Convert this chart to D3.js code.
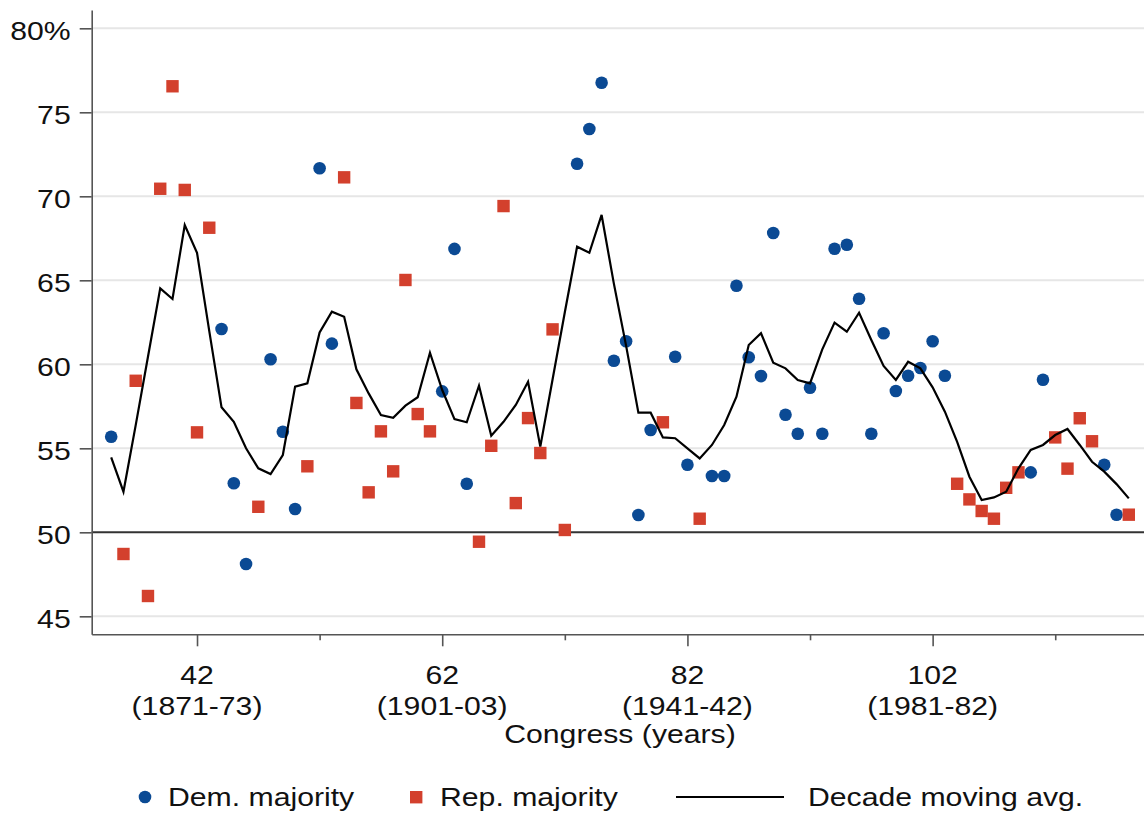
<!DOCTYPE html>
<html><head><meta charset="utf-8">
<script src="https://cdn.jsdelivr.net/npm/d3@7"></script>
<style>
html,body{margin:0;padding:0;background:#fff;}
svg{display:block;font-family:"Liberation Sans",Arial,Helvetica,sans-serif;}
</style></head><body>
<svg id="chart" width="1144" height="813"></svg>
<script>
// ---------------- DATA ----------------
const congresses = [35,36,37,38,39,40,41,42,43,44,45,46,47,48,49,50,51,52,53,54,55,56,57,58,59,60,
  61,62,63,64,65,66,67,68,69,70,71,72,73,74,75,76,77,78,79,80,81,82,83,84,85,86,87,88,89,90,
  91,92,93,94,95,96,97,98,99,100,101,102,103,104,105,106,107,108,109,110,111,112,113,114,115,116,117,118];
const majority = ["D","R","R","R","R","R","R","R","R","D","D","D","R","D","D","D","R","D","D","R","R","R","R","R","R","R",
  "R","D","D","D","R","R","R","R","R","R","R","R","D","D","D","D","D","D","D","R","D","D","R","D","D","D","D","D","D","D",
  "D","D","D","D","D","D","D","D","D","D","D","D","D","R","R","R","R","R","R","D","D","R","R","R","R","D","D","R"];
const voteShare = [55.69,48.71,59.02,46.21,70.45,76.55,70.38,55.95,68.13,62.10,52.92,48.11,51.52,60.30,55.99,51.39,53.93,71.67,61.23,71.13,57.70,52.38,56.01,53.63,65.02,57.04,
  56.01,58.39,66.87,52.89,49.44,55.15,69.42,51.74,56.80,54.72,62.08,50.14,71.94,74.01,76.76,60.21,61.37,51.03,56.09,56.55,60.45,54.02,50.81,53.35,53.35,64.68,60.42,59.30,67.82,57.00,
  55.87,58.61,55.87,66.88,67.12,63.90,55.87,61.85,58.41,59.32,59.78,61.37,59.32,52.89,51.96,51.27,50.81,52.65,53.57,53.57,59.08,55.65,53.79,56.79,55.42,54.02,51.05,51.05];
const movingAvg = [54.46,52.42,56.38,60.45,64.52,63.89,68.29,66.64,61.98,57.44,56.58,55.00,53.81,53.47,54.60,58.67,58.87,61.90,63.13,62.83,59.70,58.27,56.98,56.82,57.54,58.04,
  60.69,58.47,56.74,56.55,58.73,55.75,56.58,57.58,58.96,55.10,59.10,63.10,67.00,66.64,68.89,64.80,61.10,57.12,57.12,55.65,55.60,55.00,54.40,55.20,56.39,58.07,61.15,61.85,60.10,59.76,
  59.07,58.87,60.89,62.48,61.94,63.07,61.45,59.90,59.07,60.15,59.76,58.63,57.18,55.39,53.31,51.92,52.08,52.42,53.81,54.90,55.20,55.79,56.15,55.20,54.20,53.61,52.87,52.02];

const yTicks = [45,50,55,60,65,70,75,80];
const xMajorTicks = [42,62,82,102];
const xMajorYears = ["(1871-73)","(1901-03)","(1941-42)","(1981-82)"];
const xMinorTicks = [52,72,92,112];
const xTitle = "Congress (years)";
const legendLabels = ["Dem. majority","Rep. majority","Decade moving avg."];

// ---------------- STYLE ----------------
const BLUE = "#0b4a94", RED = "#d3402d", TXT = "#111", AX = "#555";
const FS = 25.6, SX = 1.18;

const svg = d3.select("#chart");
const x = d3.scaleLinear().domain([33.41,119.24]).range([91.7,1144]);
const y = d3.scaleLinear().domain([43.93,81.09]).range([634.3,10]);

// gridlines
svg.append("g").selectAll("line").data(yTicks.filter(v=>v!==50)).join("line")
  .attr("x1",x.range()[0]).attr("x2",1144)
  .attr("y1",d=>y(d)).attr("y2",d=>y(d))
  .attr("stroke","#e6e6e6").attr("stroke-width",2);
// reference line at 50
svg.append("line").attr("x1",x.range()[0]).attr("x2",1144)
  .attr("y1",y(50)).attr("y2",y(50)).attr("stroke","#333").attr("stroke-width",2);

// y axis
const yAxis = svg.append("g").attr("transform",`translate(${x.range()[0]},0)`)
  .call(d3.axisLeft(y).tickValues(yTicks).tickSize(12).tickSizeOuter(0)
    .tickFormat(d=>d===80?"80%":String(d)));
yAxis.select(".domain").attr("stroke",AX).attr("stroke-width",1.6);
yAxis.selectAll(".tick line").attr("stroke",AX).attr("stroke-width",1.6);
yAxis.selectAll(".tick text")
  .attr("x",null).attr("dy","0.45em")
  .attr("transform",`translate(-21,0) scale(${SX},1)`)
  .attr("font-size",FS).attr("fill",TXT).attr("font-family",null);

// x axis (major & minor ticks)
const xAxisMaj = svg.append("g").attr("transform",`translate(0,${y.range()[0]})`)
  .call(d3.axisBottom(x).tickValues(xMajorTicks).tickSize(12).tickSizeOuter(0).tickFormat(""));
const xAxisMin = svg.append("g").attr("transform",`translate(0,${y.range()[0]})`)
  .call(d3.axisBottom(x).tickValues(xMinorTicks).tickSize(6).tickSizeOuter(0).tickFormat(""));
[xAxisMaj,xAxisMin].forEach(a=>{
  a.select(".domain").attr("stroke",AX).attr("stroke-width",1.6);
  a.selectAll(".tick line").attr("stroke",AX).attr("stroke-width",1.6);
});
xAxisMin.select(".domain").remove();

const xl = svg.append("g").attr("font-size",FS).attr("fill",TXT).attr("text-anchor","middle");
xMajorTicks.forEach((v,i)=>{
  xl.append("text").attr("transform",`translate(${x(v)},683.5) scale(${SX},1)`).text(String(v));
  xl.append("text").attr("transform",`translate(${x(v)},715) scale(${SX},1)`).text(xMajorYears[i]);
});
xl.append("text").attr("transform",`translate(620,743) scale(${SX},1)`).text(xTitle);

// markers
const pts = congresses.map((c,i)=>({c,v:voteShare[i],p:majority[i],m:movingAvg[i]}));
svg.append("g").selectAll("circle").data(pts.filter(d=>d.p==="D")).join("circle")
  .attr("cx",d=>x(d.c)).attr("cy",d=>y(d.v)).attr("r",6.3).attr("fill",BLUE);
svg.append("g").selectAll("rect").data(pts.filter(d=>d.p==="R")).join("rect")
  .attr("x",d=>x(d.c)-6.2).attr("y",d=>y(d.v)-6.2).attr("width",12.4).attr("height",12.4).attr("fill",RED);

// moving average line
svg.append("path").datum(pts)
  .attr("d",d3.line().x(d=>x(d.c)).y(d=>y(d.m)))
  .attr("fill","none").attr("stroke","#000").attr("stroke-width",2.2).attr("stroke-linejoin","miter");

// legend
const lg = svg.append("g").attr("font-size",FS).attr("fill",TXT);
lg.append("circle").attr("cx",145).attr("cy",797).attr("r",6.3).attr("fill",BLUE);
lg.append("text").attr("transform",`translate(168,806) scale(${SX},1)`).text(legendLabels[0]);
lg.append("rect").attr("x",410).attr("y",791).attr("width",12.4).attr("height",12.4).attr("fill",RED);
lg.append("text").attr("transform",`translate(440,806) scale(${SX},1)`).text(legendLabels[1]);
lg.append("line").attr("x1",676).attr("x2",784).attr("y1",797).attr("y2",797).attr("stroke","#000").attr("stroke-width",2.2);
lg.append("text").attr("transform",`translate(808,806) scale(${SX},1)`).text(legendLabels[2]);
</script>
</body></html>
